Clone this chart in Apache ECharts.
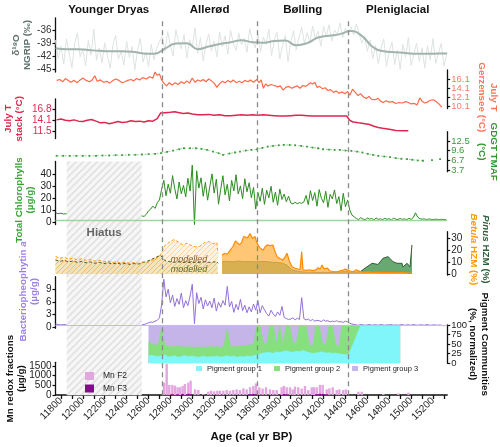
<!DOCTYPE html>
<html>
<head>
<meta charset="utf-8">
<title>Late-glacial multi-proxy record</title>
<script src="https://cdn.jsdelivr.net/npm/echarts@6.0.0/dist/echarts.min.js"></script>
<style>
  html, body { margin: 0; height: 100%; background: #fff; }
  #main { width: 500px; height: 447px; }
</style>
</head>
<body>
<div id="main"></div>
<script>
var FONT = 'Liberation Sans, Arial, Helvetica, sans-serif';
var X_MIN = 11750, X_MAX = 15330;

// x axis
var ageTicks = [11800,11900,12000,12100,12200,12300,12400,12500,12600,12700,12800,12900,13000,13100,13200,13300,13400,13500,13600,13700,13800,13900,14000,14100,14200,14300,14400,14500,14600,14700,14800,14900,15000,15100,15200,15300];
var ageLabels = [11800,12000,12200,12400,12600,12800,13000,13200,13400,13600,13800,14000,14200,14400,14600,14800,15000,15200];

// periods (boundaries dashed)
var periodNames = ['Younger Dryas', 'Allerød', 'Bølling', 'Pleniglacial'];
var periodBounds = [11750, 12723, 13594, 14426, 15330];
var hiatusYears = [11852, 12538];

// y tick values
var ngripTicks = [-45, -42, -39, -36];
var gerzTicks = [10.1, 12.1, 14.1, 16.1];
var stackTicks = [11.5, 14.1, 16.8];
var gdgtTicks = [3.7, 6.7, 9.6, 12.5];
var chlTicks = [0, 10, 20, 30, 40];
var pollenTicks = [0, 10, 20, 30];
var bactTicks = [0, 3, 6, 9];
var pigTicks = [0, 25, 50, 75, 100];
var mnTicks = [0, 500, 1000, 1500];

// NGRIP d18O, raw every 25 yr from 11750
var ngripStart = 11750, ngripStep = 25;
var ngripRaw = [-38.2,-42.5,-39.6,-43.8,-37.9,-41.2,-44.6,-39.0,-36.5,-42.1,-40.4,-44.2,-38.3,-41.7,-35.6,-42.9,-40.0,-43.5,-38.8,-41.9,-44.8,-39.3,-37.1,-42.6,-40.9,-44.0,-38.5,-42.2,-39.7,-45.1,-40.6,-37.8,-43.3,-41.0,-44.4,-39.2,-42.8,-40.1,-38.6,
  -37.4,-40.8,-36.2,-39.5,-41.9,-35.8,-38.7,-40.2,-36.9,-42.4,-38.1,-39.9,-35.4,-41.3,-37.6,-43.0,-39.2,-36.8,-40.7,-38.4,-42.1,-36.3,-39.8,-37.2,-41.5,-35.9,-38.9,-40.6,-36.6,-39.3,-37.8,-41.0,-35.5,-38.2,-40.0,
  -36.8,-40.9,-37.5,-39.2,-35.6,-41.8,-38.0,-36.4,-42.6,-39.5,-37.1,-43.2,-38.6,-36.0,-40.4,-37.7,-35.2,-39.0,-36.5,-38.8,-34.9,-37.9,-36.1,-39.6,-35.0,-37.3,-34.6,-38.4,-35.8,-36.9,-34.2,-37.6,-35.4,-36.3,
  -35.1,-37.0,-34.4,-36.6,-38.9,-37.4,-40.8,-38.2,-42.5,-39.4,-43.7,-40.1,-37.9,-44.3,-41.0,-38.6,-43.9,-40.5,-45.0,-39.2,-42.3,-37.6,-44.1,-41.6,-38.9,-43.2,-40.0,-44.7,-39.5,-42.8,-37.8,-43.6,-41.2,-39.0,-44.2,-41.7];
var ngripSmooth = [[11750,-40.1],[11850,-40.3],[11950,-40.3],[12050,-40.5],[12150,-40.7],[12250,-40.8],[12350,-40.8],[12450,-40.9],[12550,-41.3],[12650,-41.4],[12750,-40.2],[12850,-39.0],[12950,-38.9],[13050,-40.3],[13150,-39.7],[13250,-39.1],[13350,-38.7],[13450,-38.2],[13550,-38.7],[13650,-38.8],[13750,-38.4],[13850,-38.3],[13950,-39.4],[14050,-38.9],[14150,-37.6],[14250,-37.2],[14350,-36.8],[14450,-36.1],[14550,-37.2],[14650,-39.8],[14750,-40.8],[14850,-41.0],[14950,-41.2],[15050,-41.4],[15150,-41.4],[15250,-41.3],[15330,-41.3]];

// July T Gerzensee
var gerzensee = [[11760,15.8],[11790,16.0],[11815,15.5],[11840,16.2],[11860,15.9],[11890,15.4],[11920,15.8],[11950,15.3],[11975,15.9],[12000,16.3],[12030,15.8],[12060,15.5],[12085,15.9],[12110,16.8],[12130,15.6],[12160,15.9],[12190,15.4],[12220,15.6],[12245,15.2],[12270,15.7],[12300,16.1],[12330,15.8],[12360,15.3],[12385,15.5],[12410,15.8],[12440,16.0],[12465,15.7],[12490,16.2],[12520,15.9],[12545,16.4],[12580,16.1],[12610,16.6],[12640,16.3],[12660,17.6],[12680,16.9],[12700,17.2],[12720,15.9],[12740,15.2],[12765,14.6],[12790,15.3],[12815,14.8],[12845,15.3],[12870,14.9],[12900,15.5],[12925,15.1],[12950,15.7],[12975,15.2],[13000,16.3],[13025,15.4],[13050,15.9],[13075,15.6],[13100,16.0],[13125,15.5],[13150,16.1],[13175,15.7],[13200,15.2],[13225,14.3],[13250,15.1],[13275,15.6],[13300,15.3],[13325,15.8],[13350,15.4],[13375,15.9],[13400,15.3],[13430,15.6],[13455,15.3],[13480,15.8],[13510,15.5],[13530,15.9],[13560,15.4],[13590,16.0],[13610,15.3],[13630,15.9],[13650,14.1],[13670,15.0],[13690,14.6],[13720,14.9],[13750,14.7],[13780,14.4],[13805,14.6],[13830,13.7],[13855,14.3],[13880,14.5],[13910,14.1],[13935,14.4],[13960,14.6],[13985,14.1],[14010,14.7],[14035,14.5],[14060,14.9],[14080,15.3],[14100,15.0],[14120,15.4],[14140,14.3],[14165,14.5],[14190,14.0],[14215,14.2],[14240,13.6],[14265,13.8],[14290,13.2],[14315,13.5],[14340,13.0],[14370,13.3],[14395,12.9],[14420,13.4],[14440,12.6],[14465,13.9],[14490,13.2],[14515,12.5],[14540,12.9],[14565,12.2],[14590,11.9],[14615,12.3],[14640,11.7],[14670,11.6],[14700,11.9],[14720,11.3],[14745,11.0],[14770,11.4],[14800,11.1],[14830,11.2],[14860,10.8],[14890,11.0],[14920,10.9],[14950,11.2],[14975,11.0],[15000,10.7],[15030,10.8],[15055,10.5],[15080,12.0],[15100,11.3],[15125,10.9],[15150,11.1],[15175,11.5],[15200,11.6],[15225,11.3],[15250,10.8],[15280,10.0]];

// July T stack: [year, value, half-width of band]
var tStack = [[11760,14.3,1.7],[11800,14.5,1.7],[11840,14.2,1.7],[11880,14.1,1.7],[11920,14.3,1.7],[11960,14.0,1.7],[12000,13.9,1.7],[12040,14.2,1.7],[12080,14.4,1.7],[12120,14.0,1.7],[12160,13.6,1.7],[12200,13.7,1.7],[12240,13.4,1.7],[12280,13.6,1.7],[12320,13.9,1.7],[12360,13.7,1.7],[12400,13.8,1.7],[12440,14.1,1.7],[12480,13.9,1.7],[12520,14.0,1.7],[12560,13.8,1.7],[12600,14.1,1.6],[12640,14.0,1.6],[12680,14.6,1.5],[12710,15.9,1.3],[12750,16.0,1.2],[12800,16.1,1.2],[12840,16.2,1.2],[12880,16.0,1.2],[12920,15.8,1.2],[12960,15.9,1.2],[13000,15.7,1.2],[13050,15.5,1.2],[13100,15.5,1.2],[13150,15.6,1.2],[13200,15.4,1.2],[13250,15.5,1.2],[13300,15.3,1.2],[13350,15.3,1.2],[13400,15.4,1.2],[13450,15.5,1.2],[13500,15.4,1.2],[13550,15.5,1.2],[13600,15.4,1.2],[13650,15.5,1.2],[13700,15.4,1.2],[13750,15.3,1.2],[13800,15.2,1.2],[13850,15.2,1.2],[13900,15.3,1.2],[13950,15.4,1.2],[14000,15.4,1.2],[14050,15.3,1.2],[14100,15.2,1.2],[14150,15.2,1.2],[14200,15.2,1.2],[14250,15.2,1.2],[14300,15.2,1.2],[14350,15.2,1.2],[14410,15.2,1.2],[14440,14.2,1.3],[14470,13.8,1.3],[14520,13.6,1.3],[14580,13.4,1.3],[14620,13.2,1.3],[14660,12.8,1.3],[14700,12.5,1.3],[14740,12.3,1.3],[14800,12.1,1.3],[14860,11.8,1.3],[14920,11.7,1.3],[14975,11.7,1.3]];

// GDGT TMAF
var gdgt = [[11760,8.0],[11820,8.0],[11880,8.0],[11940,8.0],[12000,8.0],[12060,8.0],[12120,8.0],[12180,8.1],[12240,8.1],[12300,8.2],[12360,8.2],[12420,8.3],[12480,8.3],[12540,8.4],[12600,8.5],[12660,8.6],[12714,8.8],[12770,9.2],[12824,9.6],[12880,10.0],[12924,10.3],[12980,10.3],[13034,10.3],[13085,10.1],[13135,9.8],[13190,9.3],[13240,8.8],[13281,8.3],[13340,8.7],[13390,9.0],[13436,9.3],[13490,9.6],[13540,9.8],[13592,10.0],[13640,10.4],[13690,10.8],[13738,11.0],[13790,11.2],[13838,11.3],[13890,11.3],[13940,11.2],[13995,11.0],[14049,10.8],[14100,10.5],[14150,10.3],[14195,10.0],[14250,9.9],[14300,9.8],[14350,9.8],[14400,9.6],[14455,9.5],[14506,9.3],[14555,9.0],[14605,8.6],[14652,8.3],[14700,8.0],[14755,7.8],[14807,7.6],[14860,7.3],[14910,7.1],[14963,7.0],[15010,6.8],[15060,6.6],[15109,6.5],[15150,null],[15191,6.7],[15230,null],[15265,7.0]];

// Total chlorophylls: before the hiatus, then every 20 yr from 12540
var chlBefore = [[11750,8.2],[11775,7.4],[11800,7.8],[11825,7.1],[11850,7.5]];
var chlStart = 12540, chlStep = 20;
var chlVals = [5.5,5.2,6.9,9.8,11.2,13.6,11.8,16.4,18.7,
  27.5,34.8,22.1,31.6,24.2,38.7,27.9,19.5,33.4,23.8,30.6,21.2,36.5,25.9,47.3,-1.5,
  42.6,28.4,36.9,21.7,33.2,18.5,29.6,40.1,24.3,35.8,15.2,27.4,38.6,22.9,31.5,17.8,34.7,26.1,39.4,23.6,30.2,19.8,36.1,25.4,32.8,20.5,28.9,11.2,
  24.8,17.6,28.3,15.1,26.7,20.4,29.9,16.8,25.2,14.3,27.6,19.1,23.5,17.2,21.8,
  16.2,15.4,16.8,15.6,16.5,15.9,17.1,
  22.4,14.8,26.3,18.2,24.7,13.5,27.2,20.1,16.4,25.8,12.6,23.3,19.5,26.9,15.7,21.4,9.8,24.1,13.2,18.6,
  10.3,6.2,4.8,
  3.4,2.6,4.1,3.0,2.4,3.8,2.9,3.5,2.2,3.9,2.7,3.2,2.5,3.6,2.8,3.3,2.3,3.7,2.9,2.6,3.4,2.8,3.1,2.5,3.6,2.7,4.2,8.1,4.6,3.3,2.9,3.2,2.6,3.0,2.8,2.5,2.9,2.7,2.6,2.8,2.5,2.7];
var chlBase = 2.2;

// pollen HZM (%), modelled part and measured part
var betulaModel = [[11750,14.8],[11790,13.2],[11830,14.1],[11870,12.6],[11910,13.4],[11950,11.9],[11990,12.8],[12030,11.5],[12070,12.2],[12110,10.8],[12150,11.6],[12190,10.2],[12230,11.0],[12270,9.6],[12310,10.5],[12350,9.2],[12390,10.1],[12430,8.9],[12470,9.8],[12510,9.1],[12550,10.2],[12590,9.6],[12630,11.3],[12670,12.8],[12710,16.2],[12750,23.9],[12790,26.8],[12830,28.9],[12870,27.1],[12910,24.6],[12950,25.9],[12990,24.1],[13030,22.8],[13070,23.4],[13110,26.2],[13150,27.3],[13190,25.6],[13225,26.4],[13235,17.5]];
var pinusModel = [[11750,11.8],[11790,10.6],[11830,11.5],[11870,10.1],[11910,11.0],[11950,9.8],[11990,10.6],[12030,9.4],[12070,10.2],[12110,9.0],[12150,9.9],[12190,8.7],[12230,9.5],[12270,8.4],[12310,9.3],[12350,8.2],[12390,9.0],[12430,8.1],[12470,8.8],[12510,8.4],[12550,9.6],[12590,10.8],[12630,12.4],[12670,14.1],[12710,15.8],[12750,11.2],[12790,10.4],[12830,9.8],[12870,10.3],[12910,9.6],[12950,10.1],[12990,9.4],[13030,9.9],[13070,9.5],[13110,10.2],[13150,9.7],[13190,10.0],[13225,10.4],[13235,9.0]];
var betula = [[13272,15.8],[13295,17.4],[13320,16.6],[13345,19.8],[13372,23.1],[13395,27.9],[13409,28.6],[13430,24.7],[13450,26.2],[13470,31.5],[13482,32.9],[13505,30.4],[13528,34.1],[13550,29.8],[13573,31.6],[13592,25.8],[13615,22.4],[13646,19.9],[13665,22.7],[13683,24.5],[13710,23.8],[13738,24.3],[13755,19.2],[13775,14.6],[13800,13.1],[13829,11.7],[13850,14.6],[13866,17.4],[13890,10.2],[13912,6.1],[13940,4.8],[13965,4.2],[13985,3.9],[14000,18.8],[14012,3.4],[14040,3.1],[14070,3.6],[14100,2.9],[14130,3.5],[14150,5.2],[14170,4.1],[14186,7.6],[14205,4.3],[14232,5.0],[14260,2.5],[14290,2.1],[14323,1.9],[14350,2.6],[14380,3.3],[14400,4.1],[14414,4.8],[14442,2.5],[14470,1.9],[14500,3.6],[14530,2.2],[14560,1.5],[14600,1.8],[14640,1.3],[14680,1.6],[14720,1.2],[14760,1.4],[14800,1.1],[14840,1.3],[14880,1.0],[14920,1.2],[14960,0.9],[15008,0.8]];
var pinus = [[13272,10.4],[13320,10.6],[13372,10.2],[13420,10.8],[13470,10.3],[13528,10.4],[13580,10.2],[13630,10.5],[13683,10.4],[13730,9.8],[13780,9.6],[13829,9.0],[13870,7.2],[13912,3.4],[13960,2.4],[14000,1.8],[14050,1.5],[14100,1.6],[14150,1.3],[14200,1.5],[14250,1.2],[14300,1.4],[14350,1.6],[14400,2.0],[14450,1.5],[14500,1.7],[14533,1.8],[14597,6.0],[14643,9.0],[14698,8.0],[14743,13.2],[14789,14.6],[14835,10.4],[14871,9.0],[14917,9.0],[14926,6.0],[14963,9.0],[14990,6.0],[15008,24.4]];
var modelledTags = [[12970, 12.6], [12970, 4.2]];

// Bacteriopheophytin a
var bactBefore = [[11750,0.7],[11775,0.6],[11800,0.5],[11825,0.6],[11850,0.5]];
var bactVals = [0.5,0.6,0.8,1.0,1.2,1.1,1.4,1.6,2.2,
  5.3,11.4,7.2,9.0,5.8,7.6,4.9,6.8,5.4,8.1,4.6,6.3,5.1,7.4,10.2,0.8,
  8.2,5.6,7.1,4.3,6.5,5.0,6.2,4.6,6.9,3.8,5.9,4.7,6.3,5.2,9.7,4.8,6.1,3.5,5.4,4.1,6.6,3.9,5.2,3.4,4.8,3.6,5.5,4.0,
  6.3,3.4,5.1,4.1,3.2,2.6,4.0,3.1,2.5,3.6,2.8,4.9,2.3,2.0,1.8,
  1.9,2.2,1.7,2.1,1.8,7.0,2.0,
  1.7,1.9,1.5,1.8,1.4,1.6,1.5,1.3,1.7,1.4,1.5,1.2,1.4,1.3,1.5,1.2,1.3,1.1,1.4,1.2,
  0.9,0.7,0.6,
  0.5,0.4,0.6,0.5,0.4,0.5,0.6,0.4,0.5,0.5,0.4,0.6,0.5,0.4,0.5,0.5,0.6,0.4,0.5,0.4,0.5,0.6,0.4,0.5,0.5,0.4,0.6,0.5,0.4,0.5,0.5,0.4,0.6,0.5,0.4,0.5,0.5,0.4,0.5,0.4,0.3,0.4];
var bactBase = 0.45;

// pigment communities (%), every 30 yr from 12600 then two tail points
var pigStart = 12600, pigStep = 30;
var pigTailYears = [14540, 14900];
var pig1 = [20,21,19,18,20,22,17,18,20,16,18,21,17,19,18,16,17,19,16,18,17,19,16,18,20,17,19,16,18,17,19,18,20,22,25,27,29,28,26,30,28,31,33,30,29,32,30,34,31,28,26,27,29,30,27,28,26,27,25,24,23,22,100,100];
var pig2 = [36,30,28,32,72,26,27,26,24,30,25,22,26,24,22,27,25,23,26,27,25,26,24,30,71,26,25,28,27,29,28,30,29,78,75,25,21,72,74,22,72,19,67,70,26,20,70,66,69,22,18,73,71,24,20,72,74,23,18,76,77,78,0,0];
var pig3 = [44,49,53,50,8,52,56,56,56,54,57,57,57,57,60,57,58,58,58,55,58,55,60,52,9,57,56,56,55,54,53,52,51,0,0,48,50,0,0,48,0,50,0,0,45,48,0,0,0,50,56,0,0,46,53,0,0,50,57,0,0,0,0,0];

// Mn redox fractions (ug/g)
var mnF2 = [[12741,640],[12766,1610],[12790,520],[12818,520],[12842,480],[12866,400],[12888,400],[12912,470],[12933,570],[12964,640],[12985,740],[13025,290],[13055,260],[13101,50],[13146,170],[13171,220],[13199,190],[13229,220],[13253,225],[13284,220],[13315,260],[13345,225],[13375,260],[13406,290],[13436,260],[13467,345],[13497,290],[13528,400],[13558,470],[13582,600],[13613,400],[13643,330],[13674,400],[13710,290],[13741,260],[13772,260],[13817,400],[13838,470],[13863,400],[13893,400],[13918,290],[13939,430],[13969,400],[14000,330],[14030,470],[14061,260],[14092,400],[14113,400],[14137,400],[14167,520],[14192,520],[14229,290],[14253,345],[14284,400],[14320,260],[14344,290],[14380,260],[14405,290],[14518,170],[14549,170],[14746,50],[14883,85],[14975,120]];
var mnF3 = [[12818,45],[12866,40],[12912,55],[12964,60],[12985,50],[13528,40],[13558,55],[13582,45],[13838,50],[13863,40],[14137,45],[14167,60],[14192,55],[14229,40]];

function seq(start, step, vals) {
  return vals.map(function (v, i) { return [start + i * step, v]; });
}

function hatch(bg, fg, size, lw) {
  var c = document.createElement('canvas');
  c.width = size; c.height = size;
  var ctx = c.getContext('2d');
  ctx.fillStyle = bg;
  ctx.fillRect(0, 0, size, size);
  ctx.strokeStyle = fg;
  ctx.lineWidth = lw;
  ctx.beginPath();
  ctx.moveTo(0, size); ctx.lineTo(size, 0);
  ctx.moveTo(-1, 1); ctx.lineTo(1, -1);
  ctx.moveTo(size - 1, size + 1); ctx.lineTo(size + 1, size - 1);
  ctx.stroke();
  return { image: c, repeat: 'repeat' };
}

// panel layout: [top, height]
var panels = [[18, 54], [70, 38.5], [99, 39.5], [131.7, 40], [161.5, 63], [231.7, 43.3], [276.7, 51.6], [325, 38.3], [362.3, 32.7], [18, 377.3], [161.5, 233.8]];

var grids = panels.map(function (p) {
  return { left: 55.5, right: 52.8, top: p[0], height: p[1], outerBoundsMode: 'none' };
});

var xAxes = panels.map(function (p, i) {
  var ax = { type: 'value', gridIndex: i, min: X_MIN, max: X_MAX, show: false, splitLine: { show: false } };
  if (i === 8) {
    ax.show = true;
    ax.position = 'bottom';
    ax.axisLine = { onZero: false, lineStyle: { color: '#111', width: 1.5 } };
    ax.axisTick = { customValues: ageTicks, length: 4, lineStyle: { color: '#111', width: 1.3 } };
    ax.axisLabel = { customValues: ageLabels, rotate: 45, fontSize: 10, color: '#222', margin: 4, showMinLabel: true, showMaxLabel: true, hideOverlap: false, formatter: function (v) { return String(v); } };
    ax.name = 'Age (cal yr BP)';
    ax.nameLocation = 'middle';
    ax.nameGap = 36;
    ax.nameMoveOverlap = false;
    ax.nameTextStyle = { fontWeight: 'bold', fontSize: 11.5, color: '#111' };
  }
  return ax;
});

function labelStyle(labels, lc, fs) {
  return { customValues: labels, color: lc, fontSize: fs, margin: 4, showMinLabel: true, showMaxLabel: true, hideOverlap: false,
    formatter: function (v) { return String(v); } };
}

// every other label of a crowded axis goes on a twin axis, so none get dropped
function split(ticks, part) {
  return ticks.filter(function (t, i) { return i % 2 === part; });
}

// pad: shifts a rotated name along its axis
function yAx(g, pos, min, max, ticks, labels, lc, fs, name, nc, gap, pad, rich) {
  return {
    type: 'value', gridIndex: g, position: pos, min: min, max: max,
    axisLine: { show: true, onZero: false, lineStyle: { color: '#111', width: 1.3 } },
    axisTick: { show: true, length: 3, customValues: ticks, lineStyle: { color: '#111', width: 1.2 } },
    axisLabel: labelStyle(labels, lc, fs),
    splitLine: { show: false },
    name: name, nameLocation: 'middle', nameRotate: pos === 'left' ? 90 : -90, nameGap: gap,
    nameMoveOverlap: false,
    nameTextStyle: { color: nc, fontSize: 9.8, fontWeight: 'bold', lineHeight: 11.5, padding: pad, rich: rich }
  };
}

function twinAx(g, pos, min, max, labels, lc, fs) {
  return { type: 'value', gridIndex: g, position: pos, min: min, max: max,
    axisLine: { show: false }, axisTick: { show: false }, splitLine: { show: false },
    axisLabel: labelStyle(labels, lc, fs) };
}

var yAxes = [
  yAx(0, 'left', -45.63, -33.04, ngripTicks, ngripTicks, '#333', 10, 'δ¹⁸O\nNGRIP (‰)', '#5e706c', 22, 0),
  yAx(1, 'right', 9.71, 18.05, gerzTicks, split(gerzTicks, 0), '#ff7a60', 9.5, 'July T\nGerzensee (°C)', '#ff7458', 29, [0, 0, 0, 16]),
  yAx(2, 'left', 9.89, 19.24, stackTicks, stackTicks, '#e0294f', 10, 'July T\nstack (°C)', '#e0294f', 30, 0),
  yAx(3, 'right', 3.18, 15.32, gdgtTicks, split(gdgtTicks, 0), '#3a9a3a', 9.5, 'GDGT TMAF\n(°C)', '#2e9a2e', 29, 0),
  yAx(4, 'left', -1.48, 50.27, chlTicks, chlTicks, '#222', 10, 'Total Chlorophylls\n(µg/g)', '#3aa537', 19, [0, 14, 0, 0]),
  yAx(5, 'right', -0.84, 35.55, pollenTicks, pollenTicks, '#222', 10, '{pi|Pinus}{pn| HZM (%)}\n{be|Betula}{bn| HZM (%)}', '#2d5f3a', 21, [0, 8, 0, 0], {
    pi: { color: '#2d5f3a', fontStyle: 'italic', fontWeight: 'bold', fontSize: 9.8 },
    pn: { color: '#2d5f3a', fontWeight: 'bold', fontSize: 9.8 },
    be: { color: '#ff9a00', fontStyle: 'italic', fontWeight: 'bold', fontSize: 9.8 },
    bn: { color: '#ff9a00', fontWeight: 'bold', fontSize: 9.8 }
  }),
  yAx(6, 'left', -0.31, 12.01, bactTicks, bactTicks, '#222', 10, '{n|Bacteriopheophytin }{i|a}\n{n|(µg/g)}', '#9b7fe6', 15, [0, 0, 0, 22], {
    n: { color: '#9b7fe6', fontWeight: 'bold', fontSize: 9.8 },
    i: { color: '#9b7fe6', fontWeight: 'bold', fontStyle: 'italic', fontSize: 9.8 }
  }),
  yAx(7, 'right', 0, 100, pigTicks, split(pigTicks, 0), '#222', 9.5, 'Pigment Communities\n(%, normalized)', '#111', 20, 0),
  yAx(8, 'left', 0, 1692, mnTicks, split(mnTicks, 0), '#222', 10, 'Mn redox fractions\n(µg/g)', '#111', 28, 0),
  { type: 'value', gridIndex: 9, min: 0, max: 1, show: false },
  { type: 'value', gridIndex: 10, min: 0, max: 1, show: false },
  twinAx(1, 'right', 9.71, 18.05, split(gerzTicks, 1), '#ff7a60', 9.5),
  twinAx(3, 'right', 3.18, 15.32, split(gdgtTicks, 1), '#3a9a3a', 9.5),
  twinAx(7, 'right', 0, 100, split(pigTicks, 1), '#222', 9.5),
  twinAx(8, 'left', 0, 1692, split(mnTicks, 1), '#222', 10)
];

var series = [];

// hiatus band
series.push({
  type: 'line', xAxisIndex: 10, yAxisIndex: 10, data: [], silent: true, z: 0,
  markArea: {
    silent: true,
    itemStyle: { color: hatch('#f6f6f6', '#e1e1e1', 7, 1.6) },
    label: { show: true, position: 'insideTop', offset: [0, 60], color: '#666', fontWeight: 'bold', fontSize: 11.5 },
    data: [[{ name: 'Hiatus', xAxis: hiatusYears[0] }, { xAxis: hiatusYears[1] }]]
  }
});

// NGRIP
series.push({ type: 'line', xAxisIndex: 0, yAxisIndex: 0, data: seq(ngripStart, ngripStep, ngripRaw), symbol: 'none', lineStyle: { color: '#dde3e1', width: 1 }, z: 2 });
series.push({ type: 'line', xAxisIndex: 0, yAxisIndex: 0, data: ngripSmooth, smooth: true, symbol: 'none', lineStyle: { color: '#a2b2ad', width: 2 }, z: 3 });

// Gerzensee
series.push({ type: 'line', xAxisIndex: 1, yAxisIndex: 1, data: gerzensee, symbol: 'none', lineStyle: { color: '#ff6a4a', width: 1.2 }, z: 3 });

// stack with band
series.push({ type: 'line', xAxisIndex: 2, yAxisIndex: 2, stack: 'band', symbol: 'none', lineStyle: { opacity: 0 },
  data: tStack.map(function (d) { return [d[0], d[1] - d[2]]; }), z: 2 });
series.push({ type: 'line', xAxisIndex: 2, yAxisIndex: 2, stack: 'band', symbol: 'none', lineStyle: { opacity: 0 },
  areaStyle: { color: '#f9cad6', opacity: 1 }, data: tStack.map(function (d) { return [d[0], 2 * d[2]]; }), z: 2 });
series.push({ type: 'line', xAxisIndex: 2, yAxisIndex: 2, symbol: 'none', lineStyle: { color: '#e0264f', width: 1.5 },
  data: tStack.map(function (d) { return [d[0], d[1]]; }), z: 3 });

// GDGT
series.push({ type: 'line', xAxisIndex: 3, yAxisIndex: 3, data: gdgt, symbol: 'rect', symbolSize: 1.8, showSymbol: true,
  itemStyle: { color: '#3f9a3f' }, lineStyle: { color: '#8fd18f', width: 1, type: [2, 2] }, z: 3 });

// chlorophylls
series.push({ type: 'line', xAxisIndex: 4, yAxisIndex: 4, symbol: 'none', lineStyle: { color: '#2b8c1f', width: 1 }, z: 3,
  data: chlBefore.concat([[12200, null]], seq(chlStart, chlStep, chlVals)),
  markLine: { silent: true, symbol: 'none', label: { show: false }, lineStyle: { color: '#9fd49c', width: 1.3, type: 'solid' }, data: [{ yAxis: chlBase }] } });

// pollen
series.push({ type: 'line', xAxisIndex: 5, yAxisIndex: 5, data: pinusModel, symbol: 'none', z: 3,
  lineStyle: { color: '#4d5a1e', width: 1, type: [3, 2] }, areaStyle: { color: hatch('rgba(210,205,130,0.5)', 'rgba(150,150,50,0.6)', 5, 1), opacity: 1 } });
series.push({ type: 'line', xAxisIndex: 5, yAxisIndex: 5, data: betulaModel, symbol: 'none', z: 3,
  lineStyle: { color: '#ff9a1a', width: 1, type: [3, 2] }, areaStyle: { color: hatch('rgba(255,230,195,0.45)', 'rgba(255,175,90,0.5)', 5, 1), opacity: 1 },
  markPoint: { symbol: 'circle', symbolSize: 0, silent: true,
    label: { show: true, position: 'inside', formatter: 'modelled', fontStyle: 'italic', fontSize: 9 },
    data: [{ coord: modelledTags[0], label: { color: '#8a5a2a' } }, { coord: modelledTags[1], label: { color: '#5f6b1f' } }] } });
series.push({ type: 'line', xAxisIndex: 5, yAxisIndex: 5, data: pinus, symbol: 'none', z: 3,
  lineStyle: { color: '#2f5e3a', width: 1 }, areaStyle: { color: '#4d9a58', opacity: 0.85 } });
series.push({ type: 'line', xAxisIndex: 5, yAxisIndex: 5, data: betula, symbol: 'none', z: 4,
  lineStyle: { color: '#ff8c00', width: 1.2 }, areaStyle: { color: '#ffb347', opacity: 0.75 } });

// bacteriopheophytin
series.push({ type: 'line', xAxisIndex: 6, yAxisIndex: 6, symbol: 'none', lineStyle: { color: '#9370db', width: 1 }, z: 4,
  data: bactBefore.concat([[12200, null]], seq(chlStart, chlStep, bactVals)),
  markLine: { silent: true, symbol: 'none', label: { show: false }, lineStyle: { color: '#c8b8f0', width: 1.2, type: 'solid' }, data: [{ yAxis: bactBase }] } });

// pigment communities: cumulative shares drawn back to front
var nBody = pig1.length - pigTailYears.length;
var pigYears = pig1.map(function (v, i) { return i < nBody ? pigStart + i * pigStep : pigTailYears[i - nBody]; });
var pigTop1 = pig1.map(function (v, i) { return [pigYears[i], v]; });
var pigTop2 = pig1.map(function (v, i) { return [pigYears[i], v + pig2[i]]; });
var pigTop3 = pig1.map(function (v, i) { return [pigYears[i], v + pig2[i] + pig3[i]]; });
[['Pigment group 3', pigTop3, '#c4b4e8'], ['Pigment group 2', pigTop2, '#86e07e'], ['Pigment group 1', pigTop1, '#80f6fb']].forEach(function (s, k) {
  series.push({ name: s[0], type: 'line', xAxisIndex: 7, yAxisIndex: 7, symbol: 'none', z: 2 + k * 0.1,
    color: s[2], itemStyle: { color: s[2] }, lineStyle: { color: s[2], width: 0.5 }, areaStyle: { color: s[2], opacity: 1, origin: 'start' },
    data: s[1] });
});

// Mn bars
series.push({ name: 'Mn F2', type: 'bar', xAxisIndex: 8, yAxisIndex: 8, data: mnF2, barWidth: 2.4, barGap: '-100%', itemStyle: { color: '#e3a6e0' }, z: 3 });
series.push({ name: 'Mn F3', type: 'bar', xAxisIndex: 8, yAxisIndex: 8, data: mnF3, barWidth: 2.4, barGap: '-100%', itemStyle: { color: '#8b0a8b' }, z: 4 });

// period boundaries and names
series.push({
  type: 'line', xAxisIndex: 9, yAxisIndex: 9, data: [], silent: true, z: 8,
  markLine: { silent: true, symbol: 'none', label: { show: false }, lineStyle: { type: [5, 4], color: '#8a8a8a', width: 1.3 },
    data: periodBounds.slice(1, 4).map(function (y) { return { xAxis: y }; }) },
  markArea: { silent: true, itemStyle: { color: 'rgba(0,0,0,0)' },
    label: { show: true, position: 'top', distance: 2, color: '#111', fontWeight: 'bold', fontSize: 11.5 },
    data: periodNames.map(function (n, i) { return [{ name: n, xAxis: periodBounds[i] }, { xAxis: periodBounds[i + 1] }]; }) }
});

var option = {
  animation: false,
  backgroundColor: '#fff',
  textStyle: { fontFamily: FONT },
  grid: grids,
  xAxis: xAxes,
  yAxis: yAxes,
  legend: [
    { data: ['Pigment group 1', 'Pigment group 2', 'Pigment group 3'], left: 196, top: 364.5, icon: 'rect', itemWidth: 6, itemHeight: 5,
      itemGap: 12, padding: 0, selectedMode: false, textStyle: { fontSize: 7.5, color: '#222' } },
    { data: ['Mn F2', 'Mn F3'], orient: 'vertical', left: 85, top: 371.5, icon: 'rect', itemWidth: 9, itemHeight: 8, itemGap: 3.5,
      padding: 0, selectedMode: false, textStyle: { fontSize: 8.5, color: '#222', padding: [0, 0, 0, 4] } }
  ],
  series: series
};

var chart = echarts.init(document.getElementById('main'));
chart.setOption(option);
</script>
</body>
</html>
